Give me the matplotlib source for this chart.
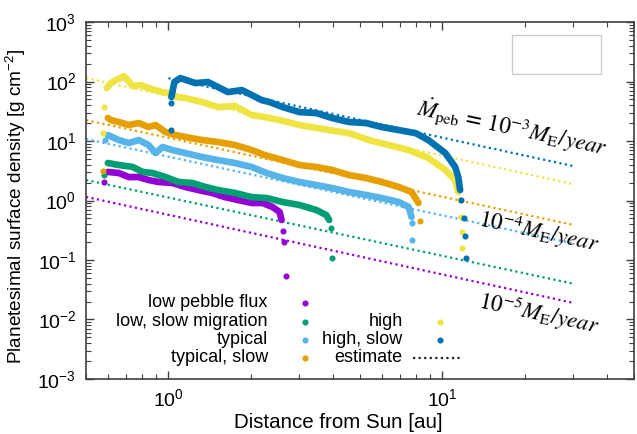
import matplotlib.pyplot as plt
from matplotlib.patches import Rectangle

plt.rcParams['font.family'] = ['Liberation Sans', 'DejaVu Sans']
plt.rcParams['mathtext.fontset'] = 'custom'
plt.rcParams['mathtext.rm'] = 'Liberation Sans'
plt.rcParams['mathtext.it'] = 'Liberation Sans:italic'
plt.rcParams['mathtext.bf'] = 'Liberation Sans:bold'

# --- data (r in au, sigma in g/cm^2) ---
low_r = [0.601, 0.659, 0.716, 0.779, 0.846, 0.920, 1.034, 1.152, 1.284, 1.443,
         1.609, 1.793, 2.014, 2.208, 2.399, 2.545, 2.588]
low_s = [3.02, 2.90, 2.48, 2.48, 2.21, 2.05, 1.97, 1.69, 1.50, 1.34,
         1.14, 1.02, 0.908, 0.908, 0.778, 0.641, 0.470]
low_dot_r = [0.581, 2.610, 2.631, 2.676]
low_dot_s = [2.05, 0.307, 0.201, 0.0538]

lowslow_r = [0.601, 0.659, 0.741, 0.805, 0.875, 0.975, 1.087, 1.222, 1.362, 1.517,
             1.749, 2.014, 2.284, 2.610, 3.008, 3.466, 3.767, 3.863]
lowslow_s = [4.27, 3.95, 3.66, 3.02, 2.90, 2.48, 2.05, 1.97, 1.69, 1.50,
             1.34, 1.14, 1.10, 0.944, 0.840, 0.692, 0.571, 0.470]
lowslow_dot_r = [0.581, 3.927, 3.962]
lowslow_dot_s = [2.68, 0.345, 0.108]

typ_r = [0.601, 0.659, 0.716, 0.779, 0.846, 0.897, 0.951, 1.034, 1.152, 1.328,
         1.517, 1.749, 2.014, 2.284, 2.610, 3.008, 3.466, 3.962, 4.564, 5.26,
         6.01, 6.93, 7.53, 7.72]
typ_s = [12.6, 10.4, 9.26, 10.4, 8.57, 6.28, 7.93, 7.06, 6.28, 5.38,
         4.79, 4.27, 3.66, 2.90, 2.39, 2.05, 1.82, 1.62, 1.39, 1.24,
         1.10, 0.944, 0.778, 0.528]
typ_dot_r = [0.586, 7.72, 7.75]
typ_dot_s = [10.4, 0.419, 0.217]

typslow_r = [0.601, 0.616, 0.659, 0.716, 0.779, 0.846, 0.897, 0.975, 1.060, 1.152,
             1.328, 1.517, 1.749, 2.014, 2.245, 2.610, 3.008, 3.466, 3.962, 4.564,
             5.26, 6.01, 6.93, 7.72, 8.18]
typslow_s = [24.4, 22.5, 20.9, 18.6, 20.1, 17.2, 18.6, 14.2, 12.6, 11.7,
             10.4, 9.62, 8.57, 7.06, 5.82, 4.79, 3.95, 3.66, 3.26, 2.68,
             2.39, 2.05, 1.69, 1.39, 0.908]
typslow_dot_r = [0.577, 8.32]
typslow_dot_s = [3.13, 0.452]

high_r = [0.596, 0.616, 0.643, 0.670, 0.687, 0.710, 0.741, 0.792, 0.846, 0.897,
          0.951, 1.0, 1.078, 1.152, 1.328, 1.517, 1.749, 2.014, 2.245, 2.545,
          3.008, 3.863, 4.564, 5.39, 6.37, 7.53, 8.89, 10.25, 11.14, 11.43]
high_s = [77.8, 94.4, 106, 114.6, 123.7, 106, 84.0, 87.4, 77.8, 72.0,
          66.6, 64.1, 54.9, 52.9, 45.2, 37.3, 38.7, 27.4, 25.3, 22.5,
          18.6, 15.3, 13.6, 10.4, 8.57, 7.06, 5.18, 3.26, 2.21, 1.39]
high_dot_r = [0.581, 0.577, 11.61, 11.72, 11.81, 11.81]
high_dot_s = [37.3, 13.6, 1.02, 0.528, 0.296, 0.159]

hs_r = [1.025, 1.051, 1.105, 1.253, 1.396, 1.517, 1.649, 1.854, 2.014, 2.191,
        2.342, 2.610, 3.008, 3.466, 3.962, 4.564, 5.26, 6.01, 6.93, 7.98,
        8.89, 10.25, 11.14, 11.43, 11.61]
hs_s = [54.9, 98.1, 114.6, 94.4, 98.1, 80.8, 66.6, 72.0, 59.3, 48.8,
        45.2, 37.3, 30.7, 29.6, 24.4, 20.9, 20.1, 17.2, 15.3, 13.6,
        10.4, 6.28, 3.66, 2.48, 1.50]
hs_dot_r = [1.025, 1.025, 11.72, 12.01, 12.11, 12.21]
hs_dot_s = [43.5, 15.3, 1.02, 0.508, 0.253, 0.108]

# estimate lines (power law, straight in log-log): end points
est_r0 = [0.5, 0.5, 0.5, 0.5, 0.5, 1.0]
est_r1 = [30, 30, 30, 30, 30, 30]
est_s0 = [1.15, 2.21, 10.8, 22.5, 115, 114]
est_s1 = [0.019, 0.040, 0.19, 0.39, 1.89, 3.8]

labels = ['low pebble flux', 'low, slow migration', 'typical', 'typical, slow',
          'high', 'high, slow']
colors = ['#9400D3', '#009E73', '#56B4E9', '#E69F00', '#F0E442', '#0072B2']

series = [(low_r, low_s, low_dot_r, low_dot_s),
          (lowslow_r, lowslow_s, lowslow_dot_r, lowslow_dot_s),
          (typ_r, typ_s, typ_dot_r, typ_dot_s),
          (typslow_r, typslow_s, typslow_dot_r, typslow_dot_s),
          (high_r, high_s, high_dot_r, high_dot_s),
          (hs_r, hs_s, hs_dot_r, hs_dot_s)]

fig = plt.figure(figsize=(6.37, 4.34), dpi=100)
ax = fig.add_axes([0.135, 0.127, 0.86, 0.822])
ax.set_xscale('log')
ax.set_yscale('log')

dots = (0, (1, 1.5))
for i in range(6):
    ax.plot([est_r0[i], est_r1[i]], [est_s0[i], est_s1[i]], color=colors[i],
            lw=1.6, ls=dots, zorder=2)

for i, (r, s, dr, ds) in enumerate(series):
    ax.plot(r, s, color=colors[i], lw=4.8, solid_capstyle='round',
            solid_joinstyle='round', zorder=3)
    ax.plot(dr, ds, 'o', color=colors[i], ms=4.4, mec='none', zorder=3)

ax.set_xlim(0.5, 50)
ax.set_ylim(1e-3, 1e3)
ax.tick_params(which='both', direction='in', top=True, right=True,
               color='#404040', labelsize=14)
ax.tick_params(which='major', length=6, width=1)
ax.tick_params(which='minor', length=3.5, width=0.8)
ax.tick_params(axis='x', pad=7)
ax.tick_params(axis='y', pad=7)
for sp in ax.spines.values():
    sp.set_color('#404040')
    sp.set_linewidth(1.2)

ax.set_xlabel('Distance from Sun [au]', fontsize=14.8)
ax.set_ylabel('Planetesimal surface density [g cm$^{-2}$]', fontsize=13.7)
ax.xaxis.set_label_coords(0.46, -0.095)
ax.yaxis.set_label_coords(-0.106, 0.485)

# legend drawn gnuplot style: right-aligned text, key to the right
tf = ax.transAxes
rows = [0.213, 0.160, 0.109, 0.059]
for i in range(4):
    ax.text(0.332, rows[i], labels[i], transform=tf, ha='right', va='center', fontsize=13)
    ax.plot(0.400, rows[i], 'o', color=colors[i], ms=4.4, mec='none', transform=tf)
for j, i in enumerate([4, 5]):
    ax.text(0.578, rows[j + 1], labels[i], transform=tf, ha='right', va='center', fontsize=13)
    ax.plot(0.646, rows[j + 1], 'o', color=colors[i], ms=4.4, mec='none', transform=tf)
ax.text(0.578, rows[3], 'estimate', transform=tf, ha='right', va='center', fontsize=13)
ax.plot([0.597, 0.686], [rows[3], rows[3]], color='#222222', lw=1.6, ls=dots, transform=tf)

ax.add_patch(Rectangle((0.777, 0.854), 0.164, 0.11, transform=tf, fill=False,
                       ec='#cccccc', lw=1))

ann = dict(ha='center', va='center', rotation=-12, rotation_mode='anchor',
           fontsize=16.5, math_fontfamily='stix')
ax.text(17.9, 16.5, r'$\dot{M}_{\mathrm{peb}}\,=\,10^{-3}M_{\mathrm{E}}/year$', **ann)
ax.text(22.5, 0.296, r'$10^{-4}M_{\mathrm{E}}/year$', **ann)
ax.text(22.5, 0.0124, r'$10^{-5}M_{\mathrm{E}}/year$', **ann)

fig.savefig('out.png', dpi=100)
